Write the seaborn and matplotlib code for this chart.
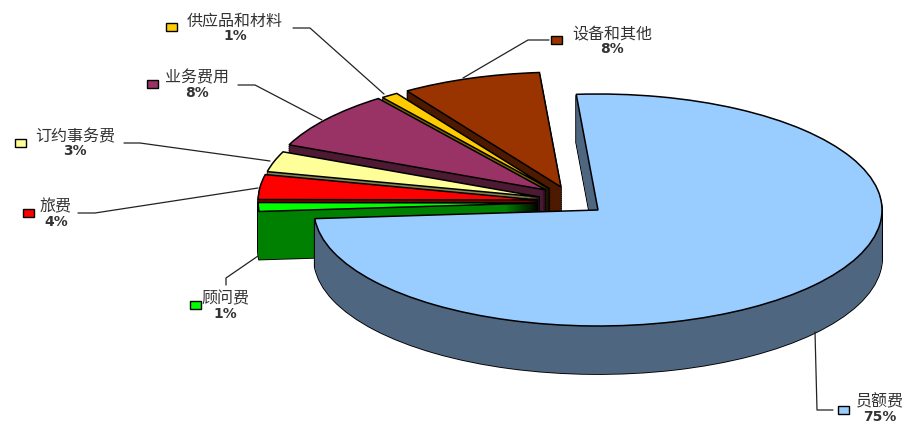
import matplotlib
matplotlib.use("Agg")
import matplotlib.pyplot as plt
from matplotlib.patches import Rectangle
import seaborn as sns

sns.set_theme(style="white")
plt.rcParams['font.family'] = ['Noto Sans CJK SC', 'DejaVu Sans']

# data (clockwise from the top, in drawing order of the source)
categories = ["员额费", "顾问费", "旅费", "订约事务费", "业务费用", "供应品和材料", "设备和其他"]
values = [75.0, 1.25, 3.5, 2.9, 8.3, 1.0, 8.0]
pct_labels = ["75%", "1%", "4%", "3%", "8%", "1%", "8%"]

# styles
top_colors = ["#99CCFF", "#00FF00", "#FF0000", "#FFFF99", "#993366", "#FFCC00", "#993300"]
side_colors = ["#4F6680", "#008000", "#800000", "#808050", "#4D1A33", "#806600", "#4D1A00"]
palette = sns.color_palette(top_colors)
side_palette = sns.color_palette(side_colors)

# layout, in reference pixels
W, H = 908, 423
CX, CY, RX, RY = 598, 210, 284, 116
DEPTH = 48
START = 94.4
apex_px = [(598, 210), (538, 203), (538, 200), (540, 197), (546, 190), (550, 189), (561, 187)]
radius_scale = [1.0, 0.985, 0.985, 0.985, 0.985, 0.985, 0.99]
label_xy = [(880, 402), (225, 299), (56, 207), (75, 137), (197, 78), (235, 21), (612, 35)]
pct_y = [417, 314, 222, 151, 93, 36, 49]
key_xy = [(843, 410), (195, 305), (28, 213), (20, 143), (152, 84), (171, 27), (556, 40)]
leaders = [
    [(815, 332), (817, 410), (833, 410)],
    [(258, 256), (226, 278), (226, 285)],
    [(78, 213), (95, 213), (258, 188)],
    [(124, 143), (140, 143), (270, 161)],
    [(238, 85), (255, 85), (322, 120)],
    [(293, 28), (310, 28), (384, 94)],
    [(549, 40), (528, 40), (463, 78)],
]

fig = plt.figure(figsize=(W / 100, H / 100), dpi=100, facecolor="white")
ax = fig.add_axes([0, 0, 1, 1])

# painter's order: back slices first, the big slice last
order = [6, 5, 4, 3, 2, 1, 0]


def layer(depth, colors, edge, lw, base_z):
    wedges, _ = ax.pie(values, colors=colors, startangle=START, counterclock=False,
                       wedgeprops=dict(edgecolor=edge, linewidth=lw))
    for i, w in enumerate(wedges):
        ax_x = (apex_px[i][0] - CX) / RX
        ax_y = (CY - apex_px[i][1] - depth) / RY
        w.set_center((ax_x, ax_y))
        w.set_radius(radius_scale[i])
        w.set_zorder(order.index(i) * 10 + base_z)


for d in range(DEPTH, 0, -2):          # silhouette outline of the side walls
    layer(d, ["black"] * 7, "black", 1.3, 1)
for d in range(DEPTH, 0, -1):          # side walls
    layer(d, side_palette, "none", 0, 2)
layer(0, palette, "black", 1.1, 3)     # top faces

ax.set_aspect("auto")
ax.set_xlim(-CX / RX, (W - CX) / RX)
ax.set_ylim((CY - H) / RY, CY / RY)
ax.axis("off")

# labels, keys and leader lines in pixel coordinates
ov = fig.add_axes([0, 0, 1, 1], facecolor="none")
ov.set_xlim(0, W)
ov.set_ylim(H, 0)
ov.axis("off")
for i, name in enumerate(categories):
    ov.text(label_xy[i][0], label_xy[i][1], name, ha="center", va="center",
            fontsize=11.5, color="#333333", family=['Noto Sans CJK SC', 'DejaVu Sans'])
    ov.text(label_xy[i][0], pct_y[i], pct_labels[i], ha="center", va="center",
            fontsize=10, fontweight="bold", color="#333333", family=['DejaVu Sans'])
    kx, ky = key_xy[i]
    ov.add_patch(Rectangle((kx - 5.5, ky - 4), 11, 8, facecolor=palette[i],
                           edgecolor="black", linewidth=1))
    xs, ys = zip(*leaders[i])
    ov.plot(xs, ys, color="#222222", linewidth=0.9)

fig.savefig("out.png", dpi=100, facecolor="white")
